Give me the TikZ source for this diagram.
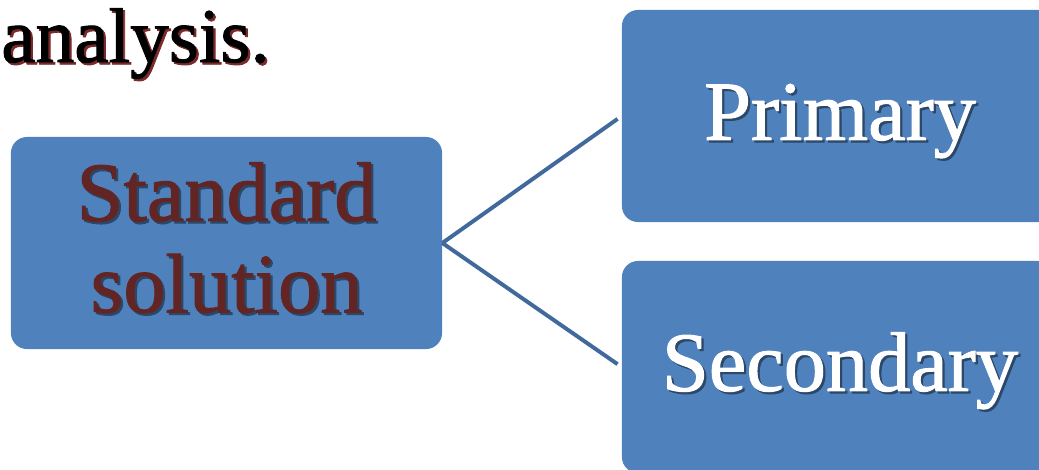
\documentclass[tikz,border=0pt]{standalone}
\usepackage{fontspec}
\setmainfont{Liberation Serif}[FakeBold=1.5]
\usetikzlibrary{positioning}
\definecolor{boxblue}{HTML}{4F81BD}
\definecolor{linkblue}{HTML}{41699C}
\definecolor{wine}{HTML}{632523}
\definecolor{shade}{HTML}{2B4869}
\definecolor{rim}{HTML}{7A2A2A}
\newcommand{\heavy}{\addfontfeature{FakeBold=1.2}}
% text with a drop shadow: shadow colour, text colour, text
\newcommand{\shtext}[3]{\makebox[0pt][l]{\kern1.6pt\raisebox{-1.6pt}{\textcolor{#1}{#3}}}\textcolor{#2}{#3}}
\tikzset{
	topic/.style={shape=rectangle, rounded corners=0.4cm, fill=boxblue, minimum width=10.775cm, minimum height=5.3cm, inner sep=0pt, align=center, font=\fontsize{60}{65}\selectfont\heavy},
	branch/.style={topic, minimum width=10.9cm, text height=40pt, text depth=6pt},
	link/.style={draw=linkblue, line width=2.8pt}
}
\begin{document}
\begin{tikzpicture}[x=0.025cm, y=-0.025cm]
	\useasboundingbox (0,0) rectangle (1039,469);
	\clip (0,0) rectangle (1039,469);
	% Heading and boxes:
	\node[anchor=base west, inner sep=0pt, font=\fontsize{55}{66}\selectfont\heavy] (head) at (1,62){\shtext{rim}{black}{analysis.}};
	\node[topic, text depth=8pt] (std) at (226.5,243){\shtext{shade}{wine}{Standard}\\\shtext{shade}{wine}{solution}};
	\node[branch] (prim) at (840,116){\shtext{shade}{white}{Primary}};
	\node[branch] (sec) at (840,367){\shtext{shade}{white}{Secondary}};
	% Links:
	\draw[link, shorten >=0.125cm] (std.east) -- (prim.west);
	\draw[link, shorten >=0.125cm] (std.east) -- (sec.west);
\end{tikzpicture}
\end{document}
